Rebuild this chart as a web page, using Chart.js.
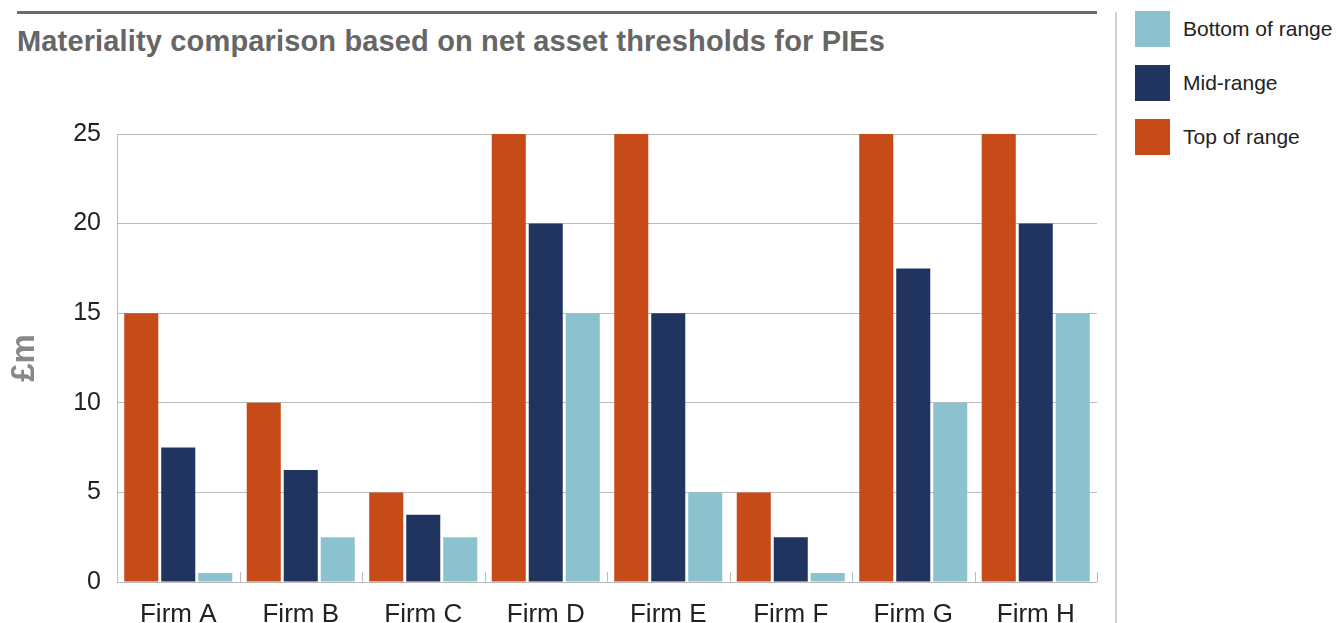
<!DOCTYPE html>
<html>
<head>
<meta charset="utf-8">
<script src="https://cdn.jsdelivr.net/npm/chart.js@4/dist/chart.umd.min.js"></script>
<style>
  body { margin: 0; background: #fff; width: 1337px; height: 623px; overflow: hidden; position: relative; font-family: "Liberation Sans", Arial, sans-serif; }
  #topline { position: absolute; left: 17px; top: 11px; width: 1080px; height: 3px; background: #6b6b6b; }
  #title { position: absolute; left: 17px; top: 25px; font-size: 29px; font-weight: bold; color: #666; white-space: nowrap; letter-spacing: 0.15px; }
  #divider { position: absolute; left: 1115px; top: 12px; width: 2px; height: 611px; background: #d0d0d0; }
  #legend { position: absolute; left: 1135px; top: 11px; }
  .item { display: flex; align-items: center; height: 36px; margin-bottom: 18px; }
  .box { width: 35px; height: 36px; margin-right: 13px; }
  .label { font-size: 21px; color: #222; white-space: nowrap; }
  #wrap { position: absolute; left: 0; top: 0; width: 1100px; height: 623px; }
</style>
</head>
<body>
<div id="topline"></div>
<div id="title">Materiality comparison based on net asset thresholds for PIEs</div>
<div id="divider"></div>
<div id="legend"></div>
<div id="wrap"><canvas id="chart"></canvas></div>
<script>
// values in £m
const firms = ['Firm A', 'Firm B', 'Firm C', 'Firm D', 'Firm E', 'Firm F', 'Firm G', 'Firm H'];
const topOfRange = [15, 10, 5, 25, 25, 5, 25, 25];
const midRange = [7.5, 6.25, 3.75, 20, 15, 2.5, 17.5, 20];
const bottomOfRange = [0.5, 2.5, 2.5, 15, 5, 0.5, 10, 15];
const yTicks = [0, 5, 10, 15, 20, 25];

const series = [
  { label: 'Top of range', data: topOfRange, color: '#C74A19' },
  { label: 'Mid-range', data: midRange, color: '#213460' },
  { label: 'Bottom of range', data: bottomOfRange, color: '#8BC2CE' }
];

// legend shown in reverse order
const legend = document.getElementById('legend');
series.slice().reverse().forEach(s => {
  const item = document.createElement('div');
  item.className = 'item';
  item.innerHTML = '<div class="box" style="background:' + s.color + '"></div><div class="label">' + s.label + '</div>';
  legend.appendChild(item);
});

// small tick marks between categories, drawn upward from the baseline
const catTicks = {
  id: 'catTicks',
  afterDatasetsDraw(chart) {
    const x = chart.scales.x, y = chart.scales.y;
    const ctx = chart.ctx;
    const base = y.getPixelForValue(0);
    ctx.save();
    ctx.strokeStyle = '#bbb';
    ctx.lineWidth = 1;
    for (let i = 0; i < firms.length; i++) {
      const px = Math.round(x.getPixelForValue(i) + (x.getPixelForValue(1) - x.getPixelForValue(0)) / 2) + 0.5;
      ctx.beginPath();
      ctx.moveTo(px, base - 10);
      ctx.lineTo(px, base);
      ctx.stroke();
    }
    ctx.restore();
  }
};

new Chart(document.getElementById('chart'), {
  type: 'bar',
  data: {
    labels: firms,
    datasets: series.map(s => ({
      label: s.label,
      data: s.data,
      backgroundColor: s.color,
      borderWidth: 0,
      categoryPercentage: 0.906,
      barPercentage: 0.92
    }))
  },
  options: {
    responsive: true,
    maintainAspectRatio: false,
    animation: false,
    layout: { padding: { top: 134, right: 3, left: 0, bottom: 0 } },
    plugins: { legend: { display: false }, tooltip: { enabled: false } },
    scales: {
      x: {
        grid: { display: false },
        border: { display: false },
        ticks: { color: '#222', font: { family: 'Liberation Sans', size: 26 }, padding: 9 },
        afterFit(scale) { scale.height = 41; }
      },
      y: {
        min: 0,
        max: 25,
        afterBuildTicks(scale) { scale.ticks = yTicks.map(v => ({ value: v })); },
        grid: { color: '#bbb', drawTicks: false },
        border: { display: true, color: '#bbb' },
        ticks: { color: '#222', font: { family: 'Liberation Sans', size: 25 }, padding: 16 },
        title: {
          display: true,
          text: '£m',
          color: '#888',
          font: { family: 'Liberation Sans', size: 33, weight: 'bold' },
          padding: { top: 5, bottom: 0 }
        },
        afterFit(scale) { scale.width = 117; }
      }
    }
  },
  plugins: [catTicks]
});
</script>
</body>
</html>
